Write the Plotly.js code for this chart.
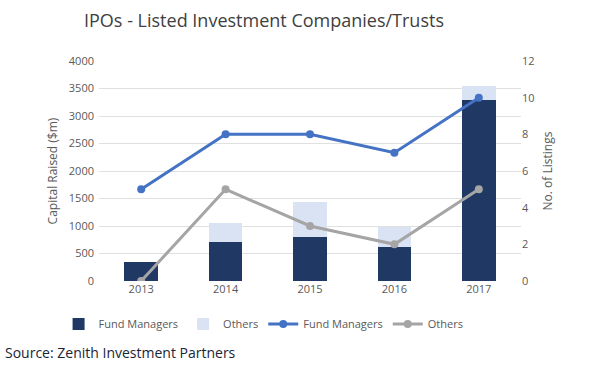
<!DOCTYPE html>
<html><head><meta charset="utf-8">
<script src="https://cdn.plot.ly/plotly-3.0.1.min.js"></script>
<style>html,body{margin:0;padding:0;background:#fff}</style>
</head><body><div id="chart" style="width:600px;height:371px"></div>
<script>
const years = ['2013','2014','2015','2016','2017'];
const capitalFundManagers = [350, 710, 800, 620, 3300];
const capitalOthers = [0, 345, 636, 370, 240];
const listingsFundManagers = [5, 8, 8, 7, 10];
const listingsOthers = [0, 5, 3, 2, 5];

const font = 'Open Sans, Liberation Sans, sans-serif';
const traces = [
  {type:'bar', x:years, y:capitalFundManagers, name:'Fund Managers', marker:{color:'#1F3864'}},
  {type:'bar', x:years, y:capitalOthers, name:'Others', marker:{color:'#DAE3F3'}},
  {type:'scatter', mode:'lines+markers', x:years, y:listingsFundManagers, yaxis:'y2', name:'Fund Managers',
   line:{color:'#4472C4', width:3}, marker:{color:'#4472C4', size:8}},
  {type:'scatter', mode:'lines+markers', x:years, y:listingsOthers, yaxis:'y2', name:'Others',
   line:{color:'#A5A5A5', width:3}, marker:{color:'#A5A5A5', size:8}}
];
const layout = {
  width:600, height:371,
  margin:{l:99, r:79, t:61, b:90},
  paper_bgcolor:'#fff', plot_bgcolor:'#fff',
  barmode:'stack', bargap:0.6,
  font:{family:font, color:'#595959', size:11},
  title:{text:'IPOs - Listed Investment Companies/Trusts', xref:'container', x:0.44, xanchor:'center', y:0.945, yanchor:'middle',
         font:{family:font, size:18, color:'#404040'}},
  xaxis:{showgrid:false, zeroline:false, showline:false, ticks:'', tickfont:{size:11, color:'#595959'}},
  yaxis:{range:[0,4000], dtick:500, showgrid:true, gridcolor:'#E0E0E0', zeroline:false, showline:false,
         tickfont:{size:11, color:'#595959'}, ticklabelstandoff:4,
         title:{text:'Capital Raised ($m)', font:{size:12, color:'#595959'}, standoff:8}},
  yaxis2:{range:[0,12], dtick:2, overlaying:'y', side:'right', showgrid:false, zeroline:false, showline:false,
          tickfont:{size:11, color:'#595959'},
          title:{text:'No. of Listings', font:{size:12, color:'#595959'}, standoff:10}},
  legend:{orientation:'h', x:0.39, xanchor:'center', y:-0.13, yanchor:'top', font:{size:11, color:'#595959'},
          traceorder:'normal', itemwidth:30},
  annotations:[{text:'Source: Zenith Investment Partners', xref:'paper', yref:'paper', x:-0.227, xanchor:'left',
                y:-0.323, yanchor:'middle', showarrow:false, font:{family:font, size:14, color:'#1A2535'}}]
};
Plotly.newPlot('chart', traces, layout, {displayModeBar:false, staticPlot:true});
</script></body></html>
